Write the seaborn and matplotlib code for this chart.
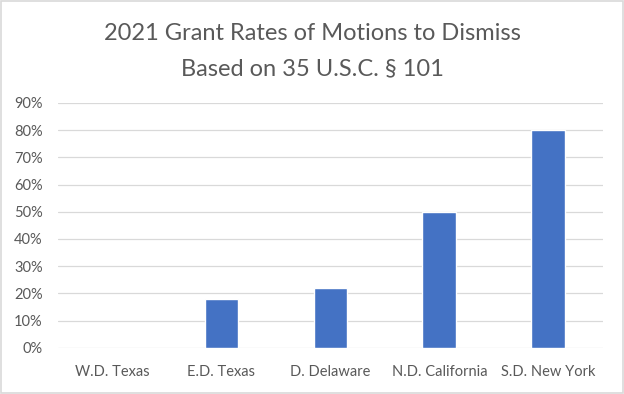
import numpy as np
import pandas as pd
import matplotlib
matplotlib.use("Agg")
import matplotlib.pyplot as plt
from matplotlib.patches import Rectangle
from matplotlib.ticker import PercentFormatter
import seaborn as sns

# --- Data ---
districts = ["W.D. Texas", "E.D. Texas", "D. Delaware", "N.D. California", "S.D. New York"]
grant_rates = [0, 18, 22, 50, 80]
y_ticks = [0, 10, 20, 30, 40, 50, 60, 70, 80, 90]

BAR_COLOR = "#4472C4"
GRID_COLOR = "#D9D9D9"
TEXT_COLOR = "#595959"

sns.set_theme(style="white")
plt.rcParams["font.family"] = ["Lato", "DejaVu Sans"]

df = pd.DataFrame({"district": districts, "rate": grant_rates})

fig = plt.figure(figsize=(6.24, 3.94), dpi=100)
ax = fig.add_axes([0.093, 0.117, 0.873, 0.622])

sns.barplot(data=df, x="district", y="rate", color=BAR_COLOR, width=0.31,
            saturation=1, ax=ax, zorder=3)

ax.set_ylim(0, 90)
ax.set_yticks(y_ticks)
ax.yaxis.set_major_formatter(PercentFormatter(decimals=0))
ax.grid(axis="y", color=GRID_COLOR, linewidth=0.9, zorder=0)
ax.set_axisbelow(True)
for side in ["top", "right", "left", "bottom"]:
    ax.spines[side].set_visible(False)
ax.tick_params(axis="both", length=0, labelsize=10.5, labelcolor=TEXT_COLOR)
ax.tick_params(axis="x", pad=12)
ax.tick_params(axis="y", pad=11)
ax.set_xlabel("")
ax.set_ylabel("")

fig.text(0.5, 0.916, "2021 Grant Rates of Motions to Dismiss", ha="center", va="center",
         fontsize=17, color=TEXT_COLOR)
fig.text(0.5, 0.825, "Based on 35 U.S.C. § 101", ha="center", va="center",
         fontsize=17, color=TEXT_COLOR)

# light chart border like the spreadsheet export
fig.patches.append(Rectangle((0.002, 0.003), 0.996, 0.994, transform=fig.transFigure,
                             fill=False, edgecolor=GRID_COLOR, linewidth=1.2))

fig.savefig("out.png", dpi=100)
plt.close(fig)
